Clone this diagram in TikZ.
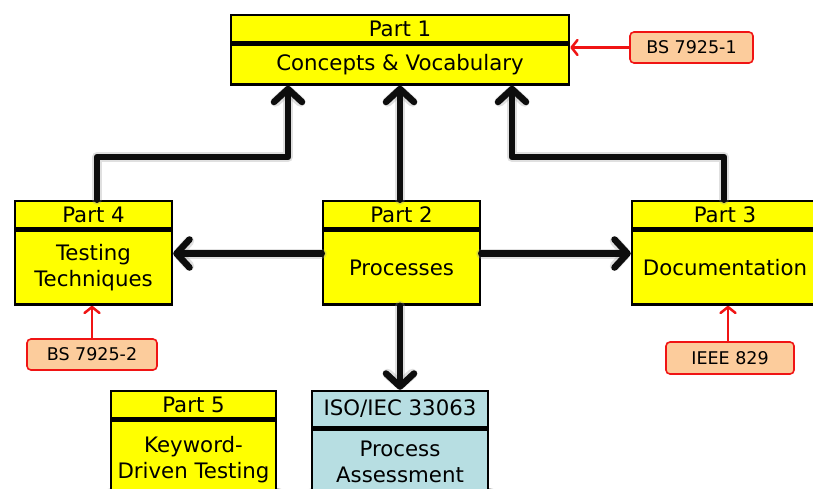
\documentclass[tikz,border=0pt]{standalone}
\usepackage{fontspec}
\setmainfont{DejaVu Sans}
\usetikzlibrary{arrows.meta,shadows.blur,backgrounds}
\definecolor{partyellow}{RGB}{255,255,0}
\definecolor{isoblue}{RGB}{183,222,226}
\definecolor{labelfill}{RGB}{252,204,156}
\definecolor{labelred}{RGB}{240,20,20}
\tikzset{
  x=1pt, y=-1pt,
  partcell/.style={draw=black, line width=2.5pt, fill=partyellow, inner sep=0pt,
    align=center, font=\fontsize{21.3}{26}\selectfont},
  isocell/.style={partcell, fill=isoblue},
  stdlabel/.style={draw=labelred, line width=1.6pt, fill=labelfill, rounded corners=4pt,
    inner sep=0pt, minimum width=123pt, minimum height=31pt,
    font=\fontsize{17.5}{20}\selectfont},
  bigarrow/.style={line width=6.5pt, line cap=round, line join=round, black!95,
    -{Straight Barb[length=13pt,width=28pt,round]},
    preaction={draw=black!40, opacity=0.3, line width=10pt, line cap=round, line join=round,
      -{Straight Barb[length=11pt,width=25pt,round]}}},
  redarrow/.style={line width=2.5pt, labelred, line cap=round,
    -{Straight Barb[length=6pt,width=15pt,round]}},
  boxshadow/.style={blur shadow={shadow xshift=1.2pt, shadow yshift=-1.2pt,
    shadow blur radius=3pt, shadow opacity=45}}
}
\begin{document}
\begin{tikzpicture}
\useasboundingbox (0,0) rectangle (813,488);
\clip (0,0) rectangle (813,488);
\fill[white] (0,0) rectangle (813,488);

% Part 1
\node[partcell, minimum width=338pt, minimum height=27pt] (p1h) at (400,28.5) {Part 1};
\node[partcell, minimum width=338pt, minimum height=40pt, anchor=north] (p1b) at (p1h.south) {Concepts \& Vocabulary};
% Part 4
\node[partcell, minimum width=157pt, minimum height=27pt] (p4h) at (93.5,214.5) {Part 4};
\node[partcell, minimum width=157pt, minimum height=74pt, anchor=north] (p4b) at (p4h.south) {Testing\\Techniques};
% Part 2
\node[partcell, minimum width=157pt, minimum height=27pt] (p2h) at (401.5,214.5) {Part 2};
\node[partcell, minimum width=157pt, minimum height=74pt, anchor=north] (p2b) at (p2h.south) {Processes};
% Part 3
\node[partcell, minimum width=186pt, minimum height=27pt] (p3h) at (725,214.5) {Part 3};
\node[partcell, minimum width=186pt, minimum height=74pt, anchor=north] (p3b) at (p3h.south) {Documentation};
% Part 5
\node[partcell, minimum width=165pt, minimum height=27pt] (p5h) at (193.5,404.5) {Part 5};
\node[partcell, minimum width=165pt, minimum height=78pt, anchor=north] (p5b) at (p5h.south) {Keyword-\\Driven Testing};
% ISO/IEC 33063
\node[isocell, minimum width=176pt, minimum height=36pt] (isoh) at (400,409) {ISO/IEC 33063};
\node[isocell, minimum width=176pt, minimum height=64pt, anchor=north] (isob) at (isoh.south) {Process\\Assessment};

% soft shadows behind the boxes
\begin{scope}[on background layer]
  \foreach \h/\b in {p1h/p1b, p4h/p4b, p2h/p2b, p3h/p3b, p5h/p5b, isoh/isob}
    \path[boxshadow, fill=white] (\h.north west) rectangle (\b.south east);
\end{scope}

% standards feeding the parts
\node[stdlabel] (bs1) at (691.5,47.5) {BS 7925-1};
\node[stdlabel, minimum width=130pt] (bs2) at (92,354.5) {BS 7925-2};
\node[stdlabel, minimum width=128pt, minimum height=32pt] (ieee) at (730,358) {IEEE 829};

% bend points of the routed connectors
\coordinate (c4) at (97,157);
\coordinate (c1l) at (288,157);
\coordinate (c3) at (724,157);
\coordinate (c1r) at (512,157);

% parts 4, 2, 3 up to part 1
\draw[bigarrow] (p4h.north -| c4) -- (c4) -- (c1l) -- (c1l |- p1b.south);
\draw[bigarrow] (p1b.south |- p2h.north) -- (p1b.south);
\draw[bigarrow] (p3h.north -| c3) -- (c3) -- (c1r) -- (c1r |- p1b.south);
% part 2 out to parts 4, 3 and the assessment standard
\draw[bigarrow] ([yshift=14pt]p2b.west) -- ([yshift=14pt]p2b.west -| p4b.east);
\draw[bigarrow] ([yshift=14pt]p2b.east) -- ([yshift=14pt]p2b.east -| p3b.west);
\draw[bigarrow] (isoh.north |- p2b.south) -- (isoh.north);

% red reference arrows
\draw[redarrow] (bs1.west) -- (bs1.west -| p1b.east);
\draw[redarrow] (bs2.north) -- (bs2.north |- p4b.south);
\draw[redarrow] ([xshift=-2pt]ieee.north) -- ([xshift=-2pt]ieee.north |- p3b.south);
\end{tikzpicture}
\end{document}
